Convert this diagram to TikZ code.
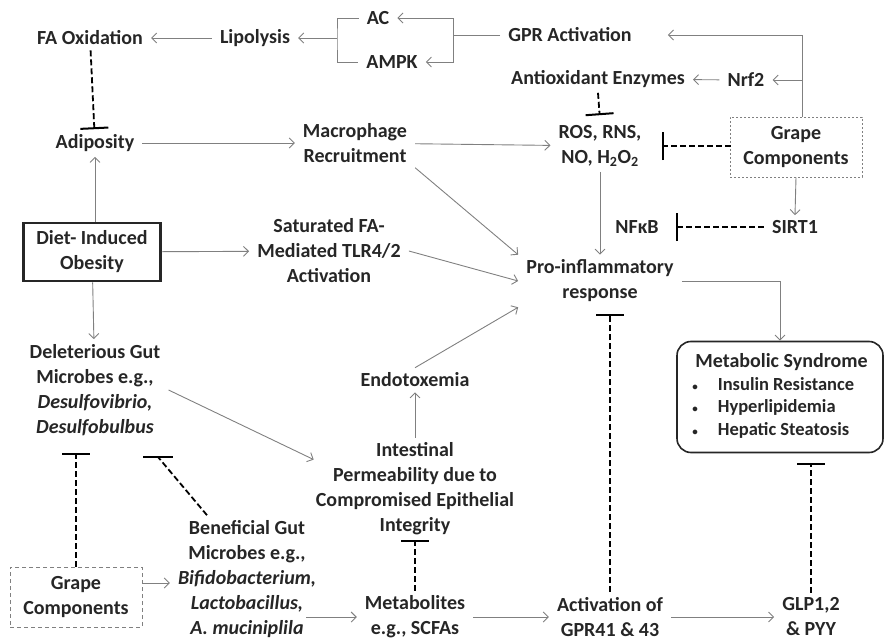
\documentclass[tikz,border=0pt]{standalone}
\usepackage{fontspec}
\setmainfont{Carlito}
\usetikzlibrary{arrows.meta,positioning,calc}
\begin{document}
\begin{tikzpicture}[x=1pt, y=-1pt,
  txt/.style={align=center, inner xsep=8pt, inner ysep=5pt, text=black!85,
              font=\fontsize{20}{25}\selectfont\bfseries},
  arr/.style={-{Straight Barb[length=5pt,width=10pt]}, draw=black!50,
              line width=0.9pt},
  line/.style={draw=black!50, line width=0.9pt},
  inh/.style={-{Bar[width=28pt,line width=2pt]}, line width=1.8pt,
              dash pattern=on 6pt off 3pt},
  grape/.style={txt, draw=black!50, line width=0.8pt,
                minimum width=132pt, minimum height=60pt},
  obese/.style={txt, draw=black!85, line width=2.6pt,
                minimum width=137pt, minimum height=58pt},
  syndrome/.style={txt, draw=black!85, line width=1.6pt, rounded corners=14pt,
                   minimum width=206pt, minimum height=111pt}]
\useasboundingbox (0,0) rectangle (887,642);
\node[txt] (faox) at (90,38) {FA Oxidation};
\node[txt] (lipo) at (255,38) {Lipolysis};
\node[txt] (ac) at (378,18) {AC};
\node[txt] (ampk) at (392,62) {AMPK};
\node[txt] (gpr) at (570,35) {GPR Activation};
\node[txt] (antiox) at (598,79) {Antioxidant Enzymes};
\node[txt] (nrf) at (746,80) {Nrf2};
\node[txt] (ros) at (600,146) {ROS, RNS,\\ NO, H\textsubscript{2}O\textsubscript{2}};
\node[grape, dash pattern=on 2pt off 2pt] (grapetop) at (796,147)
  {Grape\\ Components};
\node[txt] (sirt) at (795,227) {SIRT1};
\node[txt] (nfkb) at (637,227) {NFκB};
\node[txt] (pro) at (600,281) {Pro-inflammatory\\ response};
\node[txt] (mac) at (355,143) {Macrophage\\ Recruitment};
\node[txt] (adip) at (95,143) {Adiposity};
\node[obese] (diet) at (92,252) {Diet- Induced\\ Obesity};
\node[txt] (sat) at (329,251) {Saturated FA-\\ Mediated TLR4/2\\ Activation};
\node[txt] (del) at (95,390) {Deleterious Gut\\ Microbes e.g.,\\
  \textit{Desulfovibrio,}\\ \textit{Desulfobulbus}};
\node[txt] (endo) at (415,380) {Endotoxemia};
\node[txt] (int) at (415,489) {Intestinal\\ Permeability due to\\
  Compromised Epithelial\\ Integrity};
\node[syndrome] (met) at (780,397) {\fontsize{18.5}{22.5}\selectfont
   \begin{tabular}{@{}l@{\hspace{20pt}}l@{}}
   \multicolumn{2}{@{}l@{}}{\fontsize{20}{22.5}\selectfont\hspace{3pt}Metabolic Syndrome}\\
   {\fontsize{11}{11}\selectfont\textbullet} & Insulin Resistance\\
   {\fontsize{11}{11}\selectfont\textbullet} & Hyperlipidemia\\
   {\fontsize{11}{11}\selectfont\textbullet} & Hepatic Steatosis
   \end{tabular}};
\node[txt] (bene) at (247,579) {Beneficial Gut\\ Microbes e.g.,\\
  \textit{Bifidobacterium,}\\ \textit{Lactobacillus,}\\ \textit{A. muciniplila}};
\node[grape, dash pattern=on 4pt off 3pt] (grapebot) at (76,597)
  {Grape\\ Components};
\node[txt] (meta) at (415,617) {Metabolites\\ e.g., SCFAs};
\node[txt] (gpra) at (610,617) {Activation of\\ GPR41 \& 43};
\node[txt] (glp) at (811,617) {GLP1,2\\ \& PYY};
\coordinate (bl) at (337,38);
\coordinate (br) at (453,35);
\coordinate (delbar) at (158,457);
\draw[arr] (lipo) -- (faox);
\draw[line] (ac.west) -| (bl) |- (ampk.west);
\draw[arr] (bl) -- (lipo);
\draw[line] (gpr.west) -- (br);
\draw[arr] (br) |- (ac.east);
\draw[arr] (br) |- (ampk.east);
\draw[arr, shorten >=28pt] ([xshift=6pt]grapetop.north) |- (gpr.east);
\draw[arr] ([xshift=6pt]grapetop.north) |- (nrf.east);
\draw[arr] (nrf) -- (antiox);
\draw[inh, shorten >=5pt] (antiox.south) -- (ros.north);
\draw[inh, shorten >=12pt] (grapetop.west) -- (ros.east -| grapetop.west) -- (ros.east);
\draw[arr] (grapetop.south) -- (sirt.north);
\draw[inh, shorten >=9pt] (sirt) -- (nfkb);
\draw[arr] (ros) -- (pro);
\draw[inh] (faox) -- (adip);
\draw[arr] (adip) -- (mac);
\draw[arr] (mac) -- (ros);
\draw[arr] (mac.south east) -- (pro.north west);
\draw[arr] (diet.north -| adip.south) -- (adip.south);
\draw[arr] (diet) -- (sat);
\draw[arr] (sat.east) -- (pro.west);
\draw[arr] (diet) -- (del);
\draw[arr] (del.east) -- ([xshift=6pt,yshift=-22pt]int.north west);
\draw[arr] (int) -- (endo);
\draw[arr] (endo.north) -- (pro.south west);
\draw[arr] (pro.east) -| (met.north);
\draw[inh, shorten >=10pt] (glp.north) -- (glp.north |- met.south);
\draw[arr] (gpra) -- (glp);
\draw[arr] (meta) -- (gpra);
\draw[arr] ([xshift=-18pt]bene.east |- meta.west) -- (meta.west);
\draw[inh, shorten >=7pt] (gpra.north) -- (gpra.north |- pro.south);
\draw[inh] (meta) -- (int);
\draw[arr] ([yshift=14pt]grapebot.east) -- ([yshift=14pt]grapebot.east -| bene.west);
\draw[inh, shorten >=12pt] (grapebot.north) -- (grapebot.north |- del.south);
\draw[line width=1.8pt, dash pattern=on 6pt off 3pt]
  ([xshift=-40pt]bene.north) -- (delbar);
\draw[line width=2pt] ([xshift=-15pt]delbar) -- ([xshift=15pt]delbar);
\end{tikzpicture}
\end{document}
